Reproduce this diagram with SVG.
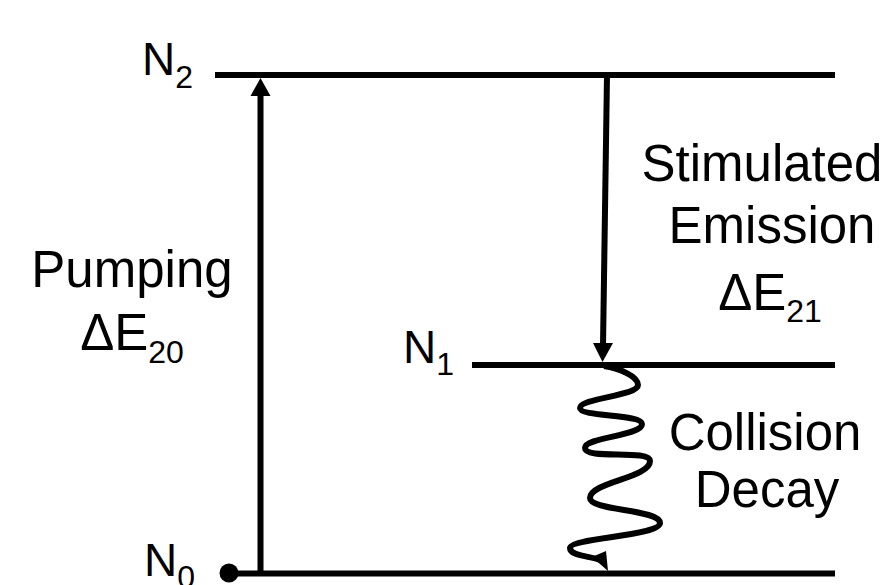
<svg xmlns="http://www.w3.org/2000/svg" width="892" height="585" viewBox="0 0 892 585">
<style>
text{font-family:"Liberation Sans",Arial,sans-serif;fill:#000}
.lbl{font-size:51px;text-anchor:middle}
.lvl{font-size:46px}
.sub{font-size:32px}
.line{stroke:#000;stroke-width:6;fill:none}
</style>
<rect width="892" height="585" fill="#fff"/>
<g id="connectors">
<line class="line" x1="260.5" y1="573" x2="260.5" y2="92" stroke-width="5"/>
<polygon points="260.5,78 250.5,96 270.5,96"/>
<line class="line" x1="607" y1="75" x2="603" y2="346" stroke-width="5"/>
<polygon points="602.5,362 593,343 613,343"/>
<path class="line" stroke-width="6" d="M604,366 C618,368 638,376 638,385 C638,396 580,398 580,408 C580,417 642,414 642,424 C642,436 585,437 585,448 C585,460 650,449 650,461 C650,478 590,482 590,498 C590,511 660,509 660,523 C660,536 570,538 570,548 C570,556 590,556 600,560"/>
<polygon points="592,557 606,551 608,571"/>
</g>
<g id="level-N2">
<line class="line" x1="215" y1="75" x2="835" y2="75"/>
<text class="lvl" x="142" y="75">N<tspan class="sub" dy="13">2</tspan></text>
</g>
<g id="level-N1">
<line class="line" x1="472" y1="365" x2="835" y2="365"/>
<text class="lvl" x="403" y="363">N<tspan class="sub" dy="12">1</tspan></text>
</g>
<g id="level-N0">
<line class="line" x1="229" y1="573.5" x2="835" y2="573.5" stroke-width="7"/>
<circle cx="229" cy="573" r="9.5"/>
<text class="lvl" x="144" y="576">N<tspan class="sub" dy="12">0</tspan></text>
</g>
<g id="label-pumping">
<text class="lbl" x="132" y="287">Pumping</text>
<text class="lbl" x="132" y="350">ΔE<tspan class="sub" dy="13">20</tspan></text>
</g>
<g id="label-stimulated">
<text class="lbl" x="762" y="181">Stimulated</text>
<text class="lbl" x="772" y="243">Emission</text>
<text class="lbl" x="770" y="310">ΔE<tspan class="sub" dy="12">21</tspan></text>
</g>
<g id="label-collision">
<text class="lbl" x="765" y="450">Collision</text>
<text class="lbl" x="767" y="507">Decay</text>
</g>
</svg>
